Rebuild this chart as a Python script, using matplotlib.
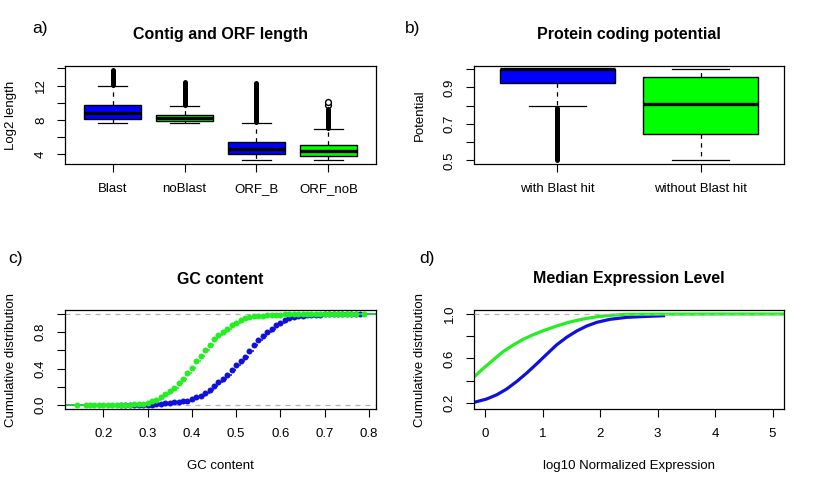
import matplotlib
matplotlib.use("Agg")
import matplotlib.pyplot as plt

plt.rcParams['font.family'] = ['Liberation Sans', 'DejaVu Sans']

# ---------------- data ----------------
# a) Contig and ORF length (log2)
len_labels = ["Blast", "noBlast", "ORF_B", "ORF_noB"]
len_q1 = [8.1, 7.9, 4.0, 3.75]
len_med = [8.8, 8.25, 4.6, 4.38]
len_q3 = [9.7, 8.6, 5.43, 5.05]
len_wlo = [7.65, 7.65, 3.28, 3.28]
len_whi = [12.0, 9.6, 7.62, 6.92]
len_out_lo = [12.1, 9.7, 7.75, 7.0]      # dense run of outliers (low end)
len_out_hi = [13.85, 12.45, 12.35, 9.3]  # dense run of outliers (high end)
len_out_single = [[], [], [], [9.78, 10.12]]
len_colors = ["#0000FF", "#00FF00", "#0000FF", "#00FF00"]

# b) Protein coding potential
pot_labels = ["with Blast hit", "without Blast hit"]
pot_q1 = [0.922, 0.643]
pot_med = [1.0, 0.812]
pot_q3 = [1.0, 0.96]
pot_wlo = [0.80, 0.50]
pot_whi = [1.0, 1.0]
pot_out_lo = [0.50, None]
pot_out_hi = [0.79, None]
pot_colors = ["#0000FF", "#00FF00"]

# c) GC content ECDF
gc_green_x = [0.14, 0.16, 0.17, 0.18, 0.19, 0.20, 0.21, 0.22, 0.23, 0.24, 0.25,
              0.26, 0.27, 0.28, 0.29, 0.30, 0.31, 0.32, 0.33, 0.34, 0.35, 0.36,
              0.37, 0.38, 0.39, 0.40, 0.41, 0.42, 0.43, 0.44, 0.45, 0.46, 0.47,
              0.48, 0.49, 0.50, 0.51, 0.52, 0.53, 0.54, 0.55, 0.56, 0.57, 0.58,
              0.59, 0.60, 0.61, 0.62, 0.63, 0.64, 0.65, 0.66, 0.67, 0.68, 0.69,
              0.70, 0.71, 0.72, 0.73, 0.74, 0.75, 0.76, 0.77, 0.79]
gc_green_y = [0.0001, 0.0003, 0.0005, 0.0008, 0.001, 0.0012, 0.0015, 0.002, 0.003, 0.004, 0.005,
              0.006, 0.008, 0.011, 0.016, 0.025, 0.04, 0.06, 0.09, 0.12, 0.15, 0.19,
              0.24, 0.29, 0.35, 0.41, 0.48, 0.54, 0.60, 0.66, 0.72, 0.765, 0.80,
              0.84, 0.875, 0.905, 0.93, 0.95, 0.965, 0.972, 0.978, 0.982, 0.985, 0.988,
              0.990, 0.993, 0.995, 0.997, 0.998, 0.9985, 0.999, 0.9992, 0.9994, 0.9995, 0.9996,
              0.9997, 0.9998, 0.9998, 0.9999, 0.9999, 0.9999, 0.9999, 0.99995, 1.0]
gc_blue_x = [0.24, 0.25, 0.26, 0.27, 0.28, 0.29, 0.30, 0.31, 0.32, 0.33, 0.34,
             0.35, 0.36, 0.37, 0.38, 0.39, 0.40, 0.41, 0.42, 0.43, 0.44, 0.45,
             0.46, 0.47, 0.48, 0.49, 0.50, 0.51, 0.52, 0.53, 0.54, 0.55, 0.56,
             0.57, 0.58, 0.59, 0.60, 0.61, 0.62, 0.63, 0.64, 0.65, 0.66, 0.67,
             0.68, 0.69, 0.70, 0.71, 0.72, 0.73, 0.74, 0.75, 0.76, 0.77, 0.78]
gc_blue_y = [0.0001, 0.0003, 0.0006, 0.001, 0.002, 0.003, 0.004, 0.006, 0.010, 0.015, 0.020,
             0.025, 0.030, 0.033, 0.040, 0.050, 0.068, 0.085, 0.105, 0.13, 0.16, 0.21,
             0.25, 0.29, 0.335, 0.385, 0.44, 0.48, 0.53, 0.59, 0.66, 0.71, 0.755,
             0.80, 0.84, 0.875, 0.905, 0.93, 0.95, 0.967, 0.975, 0.98, 0.985, 0.988,
             0.990, 0.992, 0.994, 0.995, 0.996, 0.997, 0.998, 0.9985, 0.999, 0.9995, 1.0]

# d) Median expression ECDF
ex_green_x = [-0.2, -0.03, 0.14, 0.31, 0.49, 0.66, 0.835, 1.01, 1.24, 1.47, 1.705,
              1.94, 2.17, 2.46, 3.0, 4.0, 5.2]
ex_green_y = [0.433, 0.513, 0.588, 0.662, 0.722, 0.773, 0.814, 0.85, 0.892, 0.928, 0.955,
              0.975, 0.988, 0.997, 0.999, 1.0, 1.0]
ex_blue_x = [-0.2, 0.024, 0.2, 0.37, 0.546, 0.72, 0.894, 1.07, 1.24, 1.416, 1.59,
             1.765, 1.94, 2.17, 2.46, 2.78, 3.13]
ex_blue_y = [0.205, 0.236, 0.274, 0.325, 0.393, 0.469, 0.552, 0.639, 0.722, 0.791, 0.847,
             0.892, 0.925, 0.952, 0.97, 0.978, 0.985]

BLUE = "#0000FF"
GREEN = "#00FF00"
ECDF_BLUE = "#1010DD"
ECDF_GREEN = "#22EE22"
GRAY70 = "#B3B3B3"

W, H = 818, 491
fig = plt.figure(figsize=(W / 100, H / 100), dpi=100)


def axes_px(x0, y0, x1, y1):
    return fig.add_axes([x0 / W, 1 - y1 / H, (x1 - x0) / W, (y1 - y0) / H])


TICK_FS = 9.5
LAB_FS = 9.5
TITLE_FS = 11.5
PANEL_FS = 12.5


def style(ax):
    for s in ax.spines.values():
        s.set_linewidth(0.9)
        s.set_color("black")
    ax.tick_params(axis="both", length=6, width=0.8, labelsize=TICK_FS, color="black")
    ax.tick_params(axis="x", pad=8)
    ax.tick_params(axis="y", pad=7, labelrotation=90)
    for t in ax.get_yticklabels():
        t.set_va("center")


def boxes(ax, q1, med, q3, wlo, whi, singles, colors):
    stats = []
    for i in range(len(q1)):
        stats.append(dict(q1=q1[i], med=med[i], q3=q3[i], whislo=wlo[i], whishi=whi[i],
                          fliers=singles[i]))
    bp = ax.bxp(stats, positions=list(range(1, len(q1) + 1)), widths=0.8, capwidths=0.4,
                patch_artist=True, showfliers=True,
                boxprops=dict(edgecolor="black", linewidth=1.0),
                medianprops=dict(color="black", linewidth=2.4, solid_capstyle="butt"),
                whiskerprops=dict(color="black", linewidth=0.9, linestyle=(0, (3.5, 3.5))),
                capprops=dict(color="black", linewidth=0.9),
                flierprops=dict(marker="o", markerfacecolor="white", markeredgecolor="black",
                                markersize=4.2, markeredgewidth=1.0))
    for p, c in zip(bp["boxes"], colors):
        p.set_facecolor(c)
    return bp


# ---------- a) ----------
axa = axes_px(65, 66, 376, 164)
boxes(axa, len_q1, len_med, len_q3, len_wlo, len_whi, len_out_single, len_colors)
for i in range(len(len_labels)):
    axa.plot([i + 1, i + 1], [len_out_lo[i], len_out_hi[i]], color="black", lw=3.6,
             solid_capstyle="round")
axa.set_xlim(0.34, 4.66)
axa.set_ylim(2.87, 14.27)
axa.set_xticks(range(1, 5))
axa.set_xticklabels(len_labels)
axa.set_yticks([4, 6, 8, 10, 12, 14])
axa.set_yticklabels(["4", "", "8", "", "12", ""])
style(axa)

# ---------- b) ----------
axb = axes_px(474, 66, 784, 164)
boxes(axb, pot_q1, pot_med, pot_q3, pot_wlo, pot_whi, [[], []], pot_colors)
for i in range(len(pot_labels)):
    if pot_out_lo[i] is not None:
        axb.plot([i + 1, i + 1], [pot_out_lo[i], pot_out_hi[i]], color="black", lw=3.6,
                 solid_capstyle="round")
axb.set_xlim(0.42, 2.58)
axb.set_ylim(0.48, 1.018)
axb.set_xticks([1, 2])
axb.set_xticklabels(pot_labels)
axb.set_yticks([0.5, 0.6, 0.7, 0.8, 0.9, 1.0])
axb.set_yticklabels(["0.5", "", "0.7", "", "0.9", ""])
style(axb)

# ---------- c) ----------
axc = axes_px(65, 310, 376, 409)
xlo_c, xhi_c = 0.1134, 0.816
for xs, ys, col in [(gc_blue_x, gc_blue_y, ECDF_BLUE), (gc_green_x, gc_green_y, ECDF_GREEN)]:
    axc.hlines(ys[:-1], xs[:-1], xs[1:], color=col, lw=1.1)
    axc.hlines([0], [xlo_c], [xs[0]], color=col, lw=1.1)
    axc.hlines([ys[-1]], [xs[-1]], [xhi_c], color=col, lw=1.1)
    axc.plot(xs, ys, "o", color=col, markersize=4.3, markeredgewidth=0)
axc.axhline(0, color=GRAY70, lw=0.9, ls=(0, (4, 4)), zorder=0.5)
axc.axhline(1, color=GRAY70, lw=0.9, ls=(0, (4, 4)), zorder=0.5)
axc.set_xlim(xlo_c, xhi_c)
axc.set_ylim(-0.043, 1.043)
axc.set_xticks([0.2, 0.3, 0.4, 0.5, 0.6, 0.7, 0.8])
axc.set_xticklabels(["0.2", "0.3", "0.4", "0.5", "0.6", "0.7", "0.8"])
axc.set_yticks([0.0, 0.2, 0.4, 0.6, 0.8, 1.0])
axc.set_yticklabels(["0.0", "", "0.4", "", "0.8", ""])
style(axc)

# ---------- d) ----------
axd = axes_px(474, 310, 784, 409)
axd.plot(ex_blue_x, ex_blue_y, color=ECDF_BLUE, lw=2.3, solid_capstyle="butt")
axd.plot(ex_green_x, ex_green_y, color=ECDF_GREEN, lw=2.3, solid_capstyle="butt")
axd.axhline(1, color=GRAY70, lw=0.9, ls=(0, (4, 4)), zorder=3)
axd.set_xlim(-0.197, 5.2)
axd.set_ylim(0.146, 1.036)
axd.set_xticks([0, 1, 2, 3, 4, 5])
axd.set_yticks([0.2, 0.4, 0.6, 0.8, 1.0])
axd.set_yticklabels(["0.2", "", "0.6", "", "1.0"])
style(axd)

# ---------- texts ----------
def ftext(x, y, s, **kw):
    fig.text(x / W, 1 - y / H, s, ha="center", va="center", **kw)


ftext(220.5, 34, "Contig and ORF length", fontsize=TITLE_FS, fontweight="bold")
ftext(629, 34, "Protein coding potential", fontsize=TITLE_FS, fontweight="bold")
ftext(220.5, 279, "GC content", fontsize=TITLE_FS, fontweight="bold")
ftext(629, 279, "Median Expression Level", fontsize=TITLE_FS, fontweight="bold")

ftext(40, 28, "a)", fontsize=PANEL_FS)
ftext(413, 28, "b)", fontsize=PANEL_FS)
ftext(15, 258, "c)", fontsize=PANEL_FS)
ftext(427, 258, "d)", fontsize=PANEL_FS)

ftext(11, 115, "Log2 length", fontsize=LAB_FS, rotation=90)
ftext(420, 115, "Potential", fontsize=LAB_FS, rotation=90)
ftext(11, 360, "Cumulative distribution", fontsize=LAB_FS, rotation=90)
ftext(420, 360, "Cumulative distribution", fontsize=LAB_FS, rotation=90)
ftext(220.5, 466, "GC content", fontsize=LAB_FS)
ftext(629, 466, "log10 Normalized Expression", fontsize=LAB_FS)

fig.savefig("out.png", dpi=100)
